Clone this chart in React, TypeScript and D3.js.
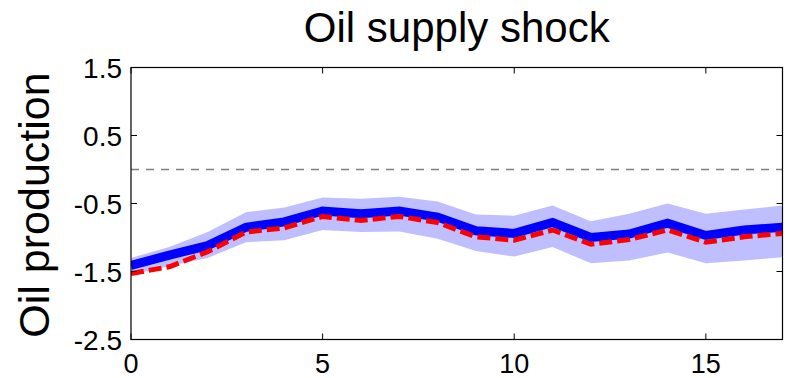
import React, { useEffect, useRef } from "react";
import * as d3 from "d3";

// Impulse response horizon (months) and estimates
const horizon = [0, 1, 2, 3, 4, 5, 6, 7, 8, 9, 10, 11, 12, 13, 14, 15, 16, 17];
const medianResponse = [-1.41, -1.26, -1.12, -0.85, -0.77, -0.61, -0.65, -0.61, -0.70, -0.90, -0.94, -0.78, -1.00, -0.95, -0.79, -0.97, -0.89, -0.85];
const altResponse = [-1.53, -1.43, -1.21, -0.92, -0.86, -0.69, -0.75, -0.69, -0.78, -0.99, -1.04, -0.89, -1.10, -1.03, -0.89, -1.07, -0.99, -0.94];
const bandUpper = [-1.30, -1.14, -0.92, -0.63, -0.56, -0.41, -0.43, -0.40, -0.47, -0.66, -0.68, -0.53, -0.76, -0.65, -0.50, -0.65, -0.59, -0.53];
const bandLower = [-1.55, -1.42, -1.30, -1.07, -1.04, -0.89, -0.92, -0.91, -1.02, -1.20, -1.28, -1.14, -1.38, -1.34, -1.22, -1.38, -1.34, -1.29];

const xTicks = [0, 5, 10, 15];
const yTicks = [-2.5, -1.5, -0.5, 0.5, 1.5];

const titleText = "Oil supply shock";
const yLabelText = "Oil production";

const W = 785;
const H = 378;
const left = 131;
const right = 782.5;
const top = 67.5;
const bottom = 339.5;
const FONT = "'Liberation Sans', Arial, Helvetica, sans-serif";

export default function App() {
  const ref = useRef<SVGSVGElement | null>(null);

  useEffect(() => {
    const svg = d3.select(ref.current);
    svg.selectAll("*").remove();

    const x = d3.scaleLinear().domain([0, 17]).range([left, right]);
    const y = d3.scaleLinear().domain([-2.5, 1.5]).range([bottom, top]);

    svg.append("defs")
      .append("clipPath")
      .attr("id", "plot-clip")
      .append("rect")
      .attr("x", left)
      .attr("y", top)
      .attr("width", right - left)
      .attr("height", bottom - top);

    const plot = svg.append("g").attr("clip-path", "url(#plot-clip)");

    const rows = horizon.map((t, i) => ({
      t,
      mid: medianResponse[i],
      alt: altResponse[i],
      lo: bandLower[i],
      hi: bandUpper[i],
    }));

    // confidence band
    const area = d3.area<(typeof rows)[number]>()
      .x((d) => x(d.t))
      .y0((d) => y(d.lo))
      .y1((d) => y(d.hi));
    plot.append("path")
      .attr("d", area(rows) as string)
      .attr("fill", "#bfbfff")
      .attr("stroke", "none");

    // zero reference
    plot.append("line")
      .attr("x1", left)
      .attr("x2", right)
      .attr("y1", y(0))
      .attr("y2", y(0))
      .attr("stroke", "#808080")
      .attr("stroke-width", 1.3)
      .attr("stroke-dasharray", "8,7");

    const midLine = d3.line<(typeof rows)[number]>()
      .x((d) => x(d.t))
      .y((d) => y(d.mid));
    plot.append("path")
      .attr("d", midLine(rows) as string)
      .attr("fill", "none")
      .attr("stroke", "#0000ff")
      .attr("stroke-width", 9)
      .attr("stroke-linejoin", "miter");

    const altLine = d3.line<(typeof rows)[number]>()
      .x((d) => x(d.t))
      .y((d) => y(d.alt));
    plot.append("path")
      .attr("d", altLine(rows) as string)
      .attr("fill", "none")
      .attr("stroke", "#ff0000")
      .attr("stroke-width", 5)
      .attr("stroke-dasharray", "13,5");

    // axes box
    const axes = svg.append("g");
    axes.append("rect")
      .attr("x", left)
      .attr("y", top)
      .attr("width", right - left)
      .attr("height", bottom - top)
      .attr("fill", "none")
      .attr("stroke", "#000")
      .attr("stroke-width", 1.2);

    const tickLen = 6;
    xTicks.forEach((t) => {
      axes.append("line")
        .attr("x1", x(t)).attr("x2", x(t))
        .attr("y1", bottom).attr("y2", bottom - tickLen)
        .attr("stroke", "#000");
      axes.append("line")
        .attr("x1", x(t)).attr("x2", x(t))
        .attr("y1", top).attr("y2", top + tickLen)
        .attr("stroke", "#000");
      axes.append("text")
        .attr("x", x(t))
        .attr("y", 372.5)
        .attr("text-anchor", "middle")
        .attr("font-family", FONT)
        .attr("font-size", 27)
        .attr("fill", "#000")
        .text(String(t));
    });

    yTicks.forEach((v) => {
      axes.append("line")
        .attr("x1", left).attr("x2", left + tickLen)
        .attr("y1", y(v)).attr("y2", y(v))
        .attr("stroke", "#000");
      axes.append("line")
        .attr("x1", right).attr("x2", right - tickLen)
        .attr("y1", y(v)).attr("y2", y(v))
        .attr("stroke", "#000");
      axes.append("text")
        .attr("x", 122)
        .attr("y", y(v) + 10)
        .attr("text-anchor", "end")
        .attr("font-family", FONT)
        .attr("font-size", 28)
        .attr("fill", "#000")
        .text(String(v));
    });

    svg.append("text")
      .attr("x", (left + right) / 2)
      .attr("y", 42)
      .attr("text-anchor", "middle")
      .attr("font-family", FONT)
      .attr("font-size", 42)
      .attr("fill", "#000")
      .text(titleText);

    svg.append("text")
      .attr("transform", `translate(49,205) rotate(-90)`)
      .attr("text-anchor", "middle")
      .attr("font-family", FONT)
      .attr("font-size", 43)
      .attr("fill", "#000")
      .text(yLabelText);
  }, []);

  return (
    <svg
      ref={ref}
      width={W}
      height={H}
      style={{ position: "fixed", left: 0, top: 0, background: "#fff" }}
    />
  );
}
